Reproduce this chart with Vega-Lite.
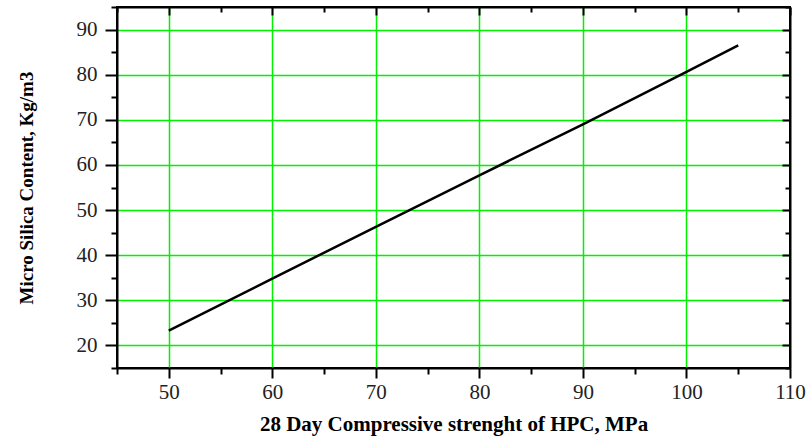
{
  "$schema": "https://vega.github.io/schema/vega-lite/v6.json",
  "width": 673,
  "height": 361,
  "autosize": {"type": "none"},
  "padding": {"left": 117, "top": 7, "right": 22, "bottom": 74},
  "background": "white",
  "config": {
    "view": {"stroke": "black", "strokeWidth": 2},
    "font": "Liberation Serif"
  },
  "data": {
    "values": [
      {"strength": 50, "silica": 23.3},
      {"strength": 60, "silica": 34.8},
      {"strength": 70, "silica": 46.3},
      {"strength": 80, "silica": 57.7},
      {"strength": 90, "silica": 69.0},
      {"strength": 100, "silica": 80.6},
      {"strength": 105, "silica": 86.5}
    ]
  },
  "layer": [
    {
      "mark": {"type": "line", "color": "black", "strokeWidth": 2.5},
      "encoding": {
        "x": {
          "field": "strength", "type": "quantitative",
          "scale": {"domain": [45, 110], "nice": false, "zero": false},
          "axis": {
            "orient": "bottom",
            "values": [45, 50, 55, 60, 65, 70, 75, 80, 85, 90, 95, 100, 105, 110],
            "labelExpr": "datum.value % 10 === 0 ? datum.label : ''",
            "title": "28 Day Compressive strenght of HPC, MPa",
            "titleFont": "Liberation Serif", "titleFontSize": 21, "titleFontWeight": "bold", "titleColor": "black",
            "titlePadding": 11,
            "labelFont": "Liberation Serif", "labelFontSize": 21, "labelColor": "#222", "labelPadding": 3,
            "labelFlush": false,
            "domainColor": "black", "domainWidth": 2,
            "tickColor": "black", "tickWidth": 2,
            "tickSize": {"condition": {"test": "datum.value % 10 === 0", "value": 10}, "value": 6},
            "grid": true, "gridColor": "#00f000", "gridWidth": 1.5,
            "gridOpacity": {"condition": {"test": "datum.value % 10 === 0 && datum.value < 110", "value": 1}, "value": 0}
          }
        },
        "y": {
          "field": "silica", "type": "quantitative",
          "scale": {"domain": [15, 95], "nice": false, "zero": false},
          "axis": {
            "orient": "left",
            "values": [15, 20, 25, 30, 35, 40, 45, 50, 55, 60, 65, 70, 75, 80, 85, 90, 95],
            "labelExpr": "datum.value % 10 === 0 && datum.value <= 90 ? datum.label : ''",
            "title": "Micro Silica Content, Kg/m3",
            "titleFont": "Liberation Serif", "titleFontSize": 19, "titleFontWeight": "bold", "titleColor": "black",
            "titlePadding": 40,
            "labelFont": "Liberation Serif", "labelFontSize": 21, "labelColor": "#222", "labelPadding": 8,
            "domainColor": "black", "domainWidth": 2,
            "tickColor": "black", "tickWidth": 2,
            "tickSize": {"condition": {"test": "datum.value % 10 === 0", "value": 12}, "value": 6},
            "grid": true, "gridColor": "#00f000", "gridWidth": 1.5,
            "gridOpacity": {"condition": {"test": "datum.value % 10 === 0 && datum.value <= 90", "value": 1}, "value": 0}
          }
        }
      }
    },
    {
      "mark": {"type": "line", "opacity": 0},
      "encoding": {
        "x": {
          "field": "strength", "type": "quantitative",
          "scale": {"domain": [45, 110], "nice": false, "zero": false},
          "axis": {
            "orient": "top",
            "values": [45, 50, 55, 60, 65, 70, 75, 80, 85, 90, 95, 100, 105, 110],
            "labels": false, "title": null, "grid": false,
            "domainColor": "black", "domainWidth": 2,
            "tickColor": "black", "tickWidth": 2,
            "tickSize": {"condition": {"test": "datum.value % 10 === 0", "value": -8}, "value": -5}
          }
        },
        "y": {
          "field": "silica", "type": "quantitative",
          "scale": {"domain": [15, 95], "nice": false, "zero": false},
          "axis": {
            "orient": "right",
            "values": [15, 20, 25, 30, 35, 40, 45, 50, 55, 60, 65, 70, 75, 80, 85, 90, 95],
            "labels": false, "title": null, "grid": false,
            "domainColor": "black", "domainWidth": 2,
            "tickColor": "black", "tickWidth": 2,
            "tickSize": {"condition": {"test": "datum.value % 10 === 0", "value": -8}, "value": -5}
          }
        }
      }
    }
  ],
  "resolve": {"axis": {"x": "independent", "y": "independent"}}
}
